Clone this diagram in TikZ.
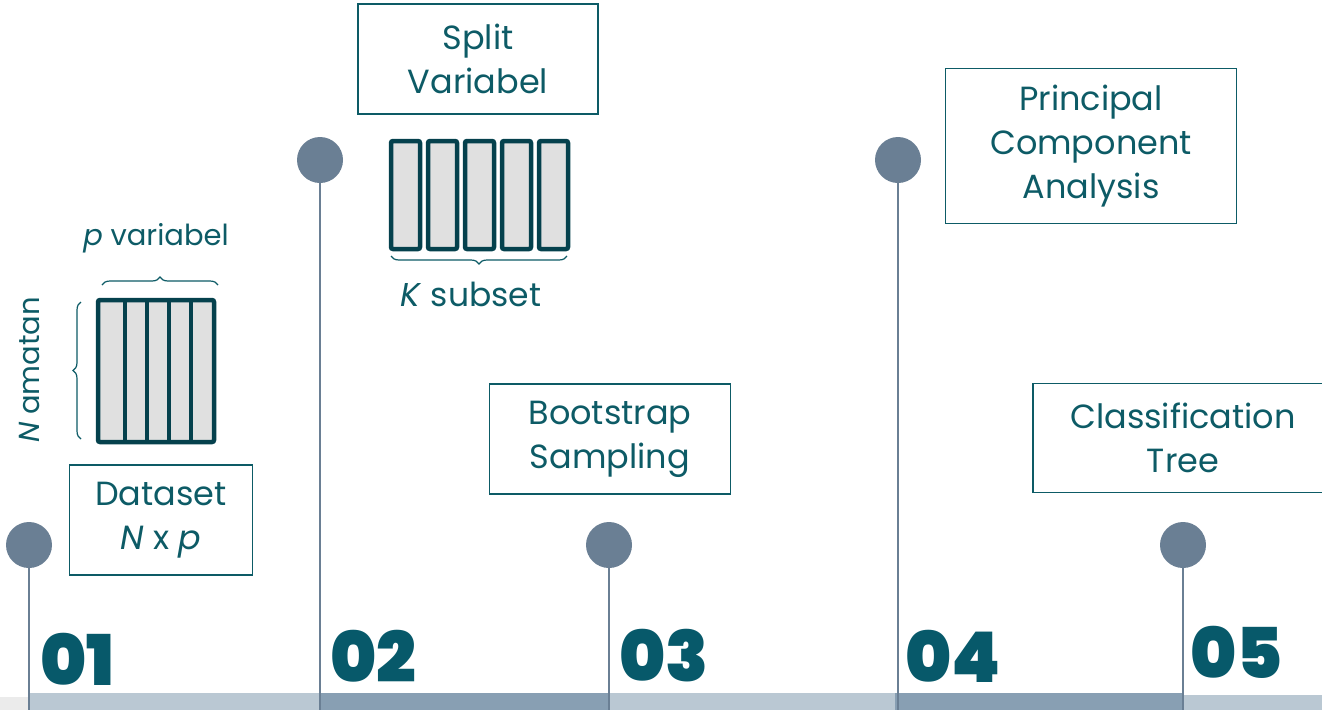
\documentclass[tikz,border=0pt]{standalone}
\usepackage{fontspec}
\setmainfont{Poppins}
\newfontfamily\numfont{Poppins Black}
\usetikzlibrary{decorations.pathreplacing}

\definecolor{tealtext}{HTML}{0D5B66}
\definecolor{numteal}{HTML}{07596A}
\definecolor{dotgray}{HTML}{6A7F94}
\definecolor{barlight}{HTML}{BAC8D3}
\definecolor{bardark}{HTML}{889FB3}
\definecolor{matline}{HTML}{05414D}
\definecolor{matfill}{HTML}{E0E0E0}
\definecolor{greyband}{HTML}{EBEBEB}

\begin{document}
\begin{tikzpicture}[x=1pt,y=-1pt,
    stepbox/.style={draw=tealtext, line width=1.6pt, text=tealtext, align=center,
        inner sep=0pt, font=\fontsize{33.5}{44}\selectfont},
    dot/.style={circle, fill=dotgray, minimum size=46pt, inner sep=0pt},
    stem/.style={dotgray, line width=1.8pt},
    stepnum/.style={anchor=base west, inner sep=0pt, text=numteal,
        font=\numfont\fontsize{70}{70}\selectfont},
    tag/.style={text=tealtext, inner sep=0pt, font=\fontsize{29}{30}\selectfont},
    bracket/.style={tealtext, line width=1.2pt, decorate,
        decoration={brace, amplitude=8pt}},
    cell/.style={draw=matline, fill=matfill, line width=4.5pt, rounded corners=2pt}]

    \clip (0,0) rectangle (1322,710);

    % timeline bar
    \fill [greyband] (0,697) rectangle (29,710);
    \fill [barlight] (29,693) rectangle (319,710);
    \fill [bardark] (319,693) rectangle (610,710);
    \fill [barlight] (610,693) rectangle (895,710);
    \fill [bardark] (895,693) rectangle (1183,710);
    \fill [barlight] (1183,695) rectangle (1322,710);

    % dots and stems
    \node [dot] (dot1) at (29,545) {};
    \node [dot] (dot2) at (320,160) {};
    \node [dot] (dot3) at (609,545) {};
    \node [dot] (dot4) at (898,160) {};
    \node [dot] (dot5) at (1183,545) {};
    \foreach \i/\x in {1/29, 2/320, 3/609, 4/898, 5/1183} {
        \coordinate (foot\i) at (\x,710);
        \draw [stem] (dot\i) -- (foot\i);
    }

    % step numbers
    \node [stepnum] (num1) at (40,685) {01};
    \node [stepnum] (num2) at (330,682) {02};
    \node [stepnum] (num3) at (619,681) {03};
    \node [stepnum] (num4) at (905,682) {04};
    \node [stepnum] (num5) at (1190,678) {05};

    % boxes
    \node [stepbox, minimum width=183pt, minimum height=110pt] (dataset) at (161,520)
        {Dataset\\\textit{N} x \textit{p}};
    \node [stepbox, minimum width=240pt, minimum height=110pt] (split) at (478,59)
        {Split\\Variabel};
    \node [stepbox, minimum width=241pt, minimum height=110pt] (boot) at (610,439)
        {Bootstrap\\Sampling};
    \node [stepbox, minimum width=291pt, minimum height=155pt] (pca) at (1091,146)
        {Principal\\Component\\Analysis};
    \node [stepbox, minimum width=300pt, minimum height=109pt, text width=290pt] (tree) at (1183,438)
        {Classification\\Tree};

    % dataset matrix
    \draw [cell] (98,300) rectangle (214,442);
    \foreach \x in {125,147,169,191}
        \draw [matline, line width=4.5pt] (\x,300) -- (\x,442);
    \draw [bracket] (102,285) -- (218,285);
    \draw [bracket] (81,439) -- (81,302);
    \node [tag] (pvar) at (156,238) {\textit{p} variabel};
    \node [tag, rotate=90] (namatan) at (30,370) {\textit{N} amatan};

    % subsets
    \foreach \i in {0,...,4}
        \draw [cell] (391+37*\i,141) rectangle (420+37*\i,249);
    \draw [bracket] (567,256) -- (391,256);
    \node [tag, font=\fontsize{33}{34}\selectfont] (ksub) at (471,294) {\textit{K} subset};
\end{tikzpicture}
\end{document}
